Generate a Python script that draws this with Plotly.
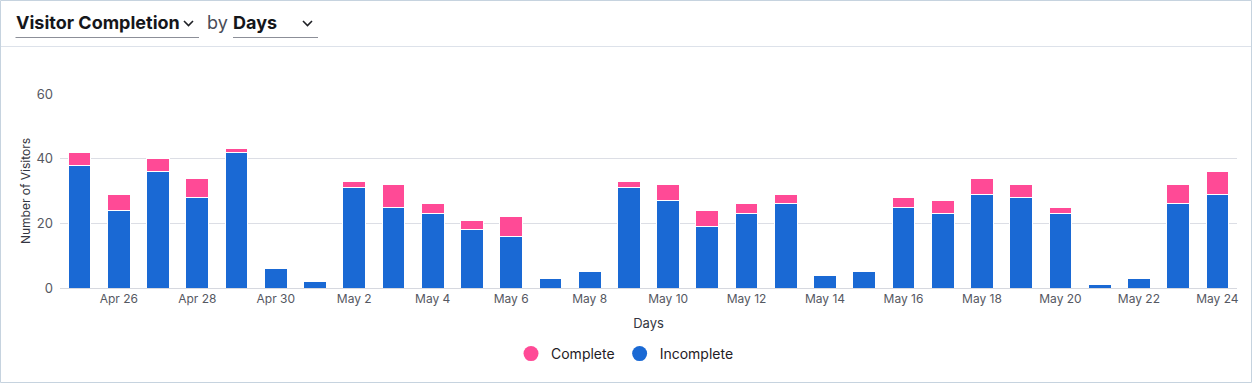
import plotly.graph_objects as go

days = ["2024-04-25", "2024-04-26", "2024-04-27", "2024-04-28", "2024-04-29",
        "2024-04-30", "2024-05-01", "2024-05-02", "2024-05-03", "2024-05-04",
        "2024-05-05", "2024-05-06", "2024-05-07", "2024-05-08", "2024-05-09",
        "2024-05-10", "2024-05-11", "2024-05-12", "2024-05-13", "2024-05-14",
        "2024-05-15", "2024-05-16", "2024-05-17", "2024-05-18", "2024-05-19",
        "2024-05-20", "2024-05-21", "2024-05-22", "2024-05-23", "2024-05-24"]
incomplete = [38, 24, 36, 28, 42, 6, 2, 31, 25, 23, 18, 16, 3, 5, 31,
              27, 19, 23, 26, 4, 5, 25, 23, 29, 28, 23, 1, 3, 26, 29]
complete = [4, 5, 4, 6, 1, 0, 0, 2, 7, 3, 3, 6, 0, 0, 2,
            5, 5, 3, 3, 0, 0, 3, 4, 5, 4, 2, 0, 0, 6, 7]
tick_vals = ["2024-04-26", "2024-04-28", "2024-04-30", "2024-05-02", "2024-05-04",
             "2024-05-06", "2024-05-08", "2024-05-10", "2024-05-12", "2024-05-14",
             "2024-05-16", "2024-05-18", "2024-05-20", "2024-05-22", "2024-05-24"]
tick_text = ["Apr 26", "Apr 28", "Apr 30", "May 2", "May 4", "May 6", "May 8",
             "May 10", "May 12", "May 14", "May 16", "May 18", "May 20", "May 22", "May 24"]

PINK = "#ff4a96"
BLUE = "#1a69d4"
FONT = "Inter"

W, H = 1252, 383
L, R, T, B = 60, 15, 94, 95
PW = W - L - R
PH = H - T - B


def X(px):
    return (px - L) / PW


def Y(py):
    return (H - B - py) / PH


fig = go.Figure()
fig.add_trace(go.Bar(x=days, y=incomplete, name="Incomplete", marker_color=BLUE,
                     marker_line_color="white", marker_line_width=1, showlegend=False))
fig.add_trace(go.Bar(x=days, y=complete, name="Complete", marker_color=PINK,
                     marker_line_color="white", marker_line_width=1, showlegend=False))
fig.add_trace(go.Scatter(x=[None], y=[None], mode="markers", name="Complete",
                         marker=dict(color=PINK, size=15, symbol="circle")))
fig.add_trace(go.Scatter(x=[None], y=[None], mode="markers", name="Incomplete",
                         marker=dict(color=BLUE, size=15, symbol="circle")))

shapes = [
    # outer frame
    dict(type="rect", xref="paper", yref="paper", x0=X(0.5), x1=X(W - 0.5),
         y0=Y(H - 0.5), y1=Y(0.5), line=dict(color="#c6d3df", width=1), layer="below"),
    # header separator
    dict(type="line", xref="paper", yref="paper", x0=X(1), x1=X(W - 1),
         y0=Y(46.5), y1=Y(46.5), line=dict(color="#dde2ea", width=1)),
    # underlines
    dict(type="line", xref="paper", yref="paper", x0=X(15.5), x1=X(199),
         y0=Y(37.5), y1=Y(37.5), line=dict(color="#8c8f98", width=1)),
    dict(type="line", xref="paper", yref="paper", x0=X(233), x1=X(318),
         y0=Y(37.5), y1=Y(37.5), line=dict(color="#8c8f98", width=1)),
]
for cx in (188.5, 307.5):
    pts = [(cx - 4.5, 21), (cx, 25.5), (cx + 4.5, 21)]
    path = "M" + " L".join(f"{X(a):.5f},{Y(b):.5f}" for a, b in pts)
    shapes.append(dict(type="path", xref="paper", yref="paper", path=path,
                       line=dict(color="#1f2025", width=1.6)))

annotations = [
    dict(text="<b>Visitor Completion</b>", x=X(14), y=Y(22), xref="paper", yref="paper",
         xanchor="left", yanchor="middle", showarrow=False,
         font=dict(family=FONT, size=18, color="#15161a")),
    dict(text="by", x=X(205), y=Y(22), xref="paper", yref="paper",
         xanchor="left", yanchor="middle", showarrow=False,
         font=dict(family=FONT, size=18, color="#4a4d57")),
    dict(text="<b>Days</b>", x=X(231), y=Y(22), xref="paper", yref="paper",
         xanchor="left", yanchor="middle", showarrow=False,
         font=dict(family=FONT, size=18, color="#15161a")),
]

fig.update_layout(
    width=W, height=H,
    margin=dict(l=L, r=R, t=T, b=B),
    paper_bgcolor="white", plot_bgcolor="white",
    barmode="stack", bargap=0.42,
    font=dict(family=FONT, size=12, color="#555862"),
    shapes=shapes, annotations=annotations,
    legend=dict(orientation="h", x=X(625), xanchor="center", y=Y(354), yanchor="middle",
                traceorder="normal",
                font=dict(family=FONT, size=14, color="#1f2025"), itemwidth=30),
    xaxis=dict(type="date", range=["2024-04-24 12:00", "2024-05-24 12:00"],
               tickvals=tick_vals, ticktext=tick_text, showgrid=False,
               showline=True, linecolor="#d6d8df", linewidth=1, ticks="",
               tickfont=dict(size=12, color="#555862"),
               title=dict(text="Days", font=dict(size=13, color="#333540"), standoff=13)),
    yaxis=dict(range=[0, 60], tickvals=[0, 20, 40, 60], showgrid=True,
               gridcolor="#dcdee5", gridwidth=1, zeroline=False, ticks="",
               tickfont=dict(size=13, color="#555862"), ticklabelstandoff=6,
               title=dict(text="Number of Visitors", font=dict(size=12, color="#333540"),
                          standoff=3)),
)

fig.write_html("out.html", config={"displayModeBar": False},
               post_script="document.body.style.margin='0px';")
